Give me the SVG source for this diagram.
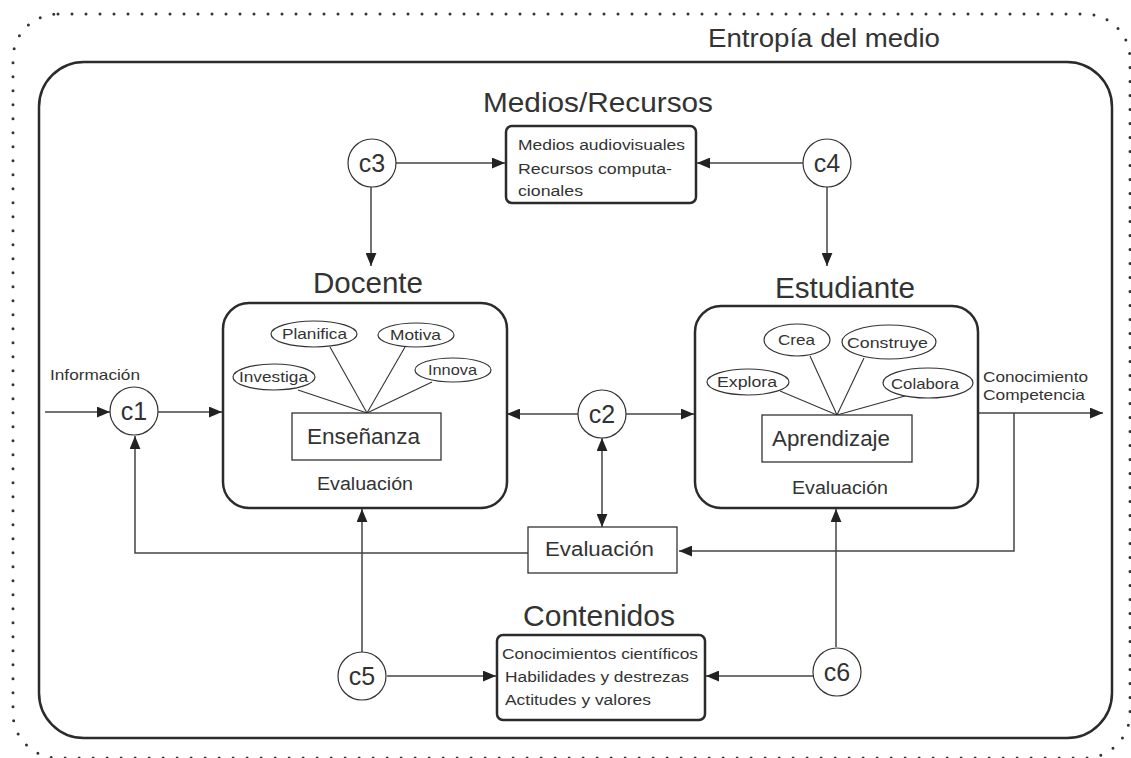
<svg xmlns="http://www.w3.org/2000/svg" width="1131" height="758" viewBox="0 0 1131 758">
<style>
text{font-family:"Liberation Sans",Arial,sans-serif;fill:#333}
.frame{fill:none;stroke:#2b2b2b;stroke-width:2.5}
.box{fill:#fff;stroke:#333;stroke-width:1.3}
.circ{fill:#fff;stroke:#333;stroke-width:1.2}
.ell{fill:#fff;stroke:#333;stroke-width:1.2}
.ln{fill:none;stroke:#444;stroke-width:1.5}
.spk{fill:none;stroke:#333;stroke-width:1.1}
.cl{font-size:25px;text-anchor:middle}
.el{font-size:15px}
.sm{font-size:15.5px}
</style>
<defs>
<marker id="ah" viewBox="0 0 12 10" refX="12" refY="5" markerWidth="13" markerHeight="11" markerUnits="userSpaceOnUse" orient="auto-start-reverse">
<path d="M0,0 L12,5 L0,10 Z" fill="#222"/>
</marker>
</defs>
<rect x="13" y="14" width="1117" height="744" rx="45" fill="none" stroke="#333" stroke-width="3" stroke-linecap="round" stroke-dasharray="0 14"/>
<text x="708" y="47" font-size="26" textLength="232" lengthAdjust="spacingAndGlyphs">Entropía del medio</text>
<rect x="39" y="62" width="1073" height="676" rx="45" class="frame"/>

<g id="connectors">
<line x1="396" y1="163" x2="505" y2="163" class="ln" marker-end="url(#ah)"/>
<line x1="803" y1="163" x2="697" y2="163" class="ln" marker-end="url(#ah)"/>
<line x1="371" y1="187" x2="371" y2="266" class="ln" marker-end="url(#ah)"/>
<line x1="827" y1="187" x2="827" y2="266" class="ln" marker-end="url(#ah)"/>
<line x1="45" y1="412" x2="110" y2="412" class="ln" marker-end="url(#ah)"/>
<line x1="158" y1="412" x2="222" y2="412" class="ln" marker-end="url(#ah)"/>
<line x1="578" y1="414" x2="507" y2="414" class="ln" marker-end="url(#ah)"/>
<line x1="626" y1="414" x2="694" y2="414" class="ln" marker-end="url(#ah)"/>
<line x1="602" y1="438" x2="602" y2="527" class="ln" marker-start="url(#ah)" marker-end="url(#ah)"/>
<line x1="978" y1="413" x2="1103" y2="413" class="ln" marker-end="url(#ah)"/>
<polyline points="1014,413 1014,551 679,551" class="ln" marker-end="url(#ah)"/>
<polyline points="528,553 135,553 135,436" class="ln" marker-end="url(#ah)"/>
<line x1="362" y1="652" x2="362" y2="509" class="ln" marker-end="url(#ah)"/>
<line x1="836" y1="647" x2="836" y2="509" class="ln" marker-end="url(#ah)"/>
<line x1="387" y1="676" x2="496" y2="676" class="ln" marker-end="url(#ah)"/>
<line x1="813" y1="676" x2="706" y2="676" class="ln" marker-end="url(#ah)"/>
</g>

<g id="medios">
<text x="483" y="112" font-size="28" textLength="230" lengthAdjust="spacingAndGlyphs">Medios/Recursos</text>
<rect x="506" y="126" width="190" height="77" rx="6" class="frame" fill="#fff"/>
<text x="518" y="150" class="sm" textLength="167" lengthAdjust="spacingAndGlyphs">Medios audiovisuales</text>
<text x="518" y="174" class="sm" textLength="154" lengthAdjust="spacingAndGlyphs">Recursos computa-</text>
<text x="518" y="196" class="sm" textLength="65" lengthAdjust="spacingAndGlyphs">cionales</text>
</g>

<g id="c3"><circle cx="372" cy="163" r="24" class="circ"/><text x="372" y="172" class="cl">c3</text></g>
<g id="c4"><circle cx="827" cy="163" r="24" class="circ"/><text x="827" y="172" class="cl">c4</text></g>

<g id="docente">
<text x="313" y="293" font-size="29" textLength="110" lengthAdjust="spacingAndGlyphs">Docente</text>
<rect x="223" y="303" width="284" height="205" rx="26" class="frame" fill="#fff"/>
<line x1="330" y1="347" x2="367" y2="413" class="spk"/>
<line x1="405" y1="347" x2="367" y2="413" class="spk"/>
<line x1="298" y1="390" x2="367" y2="413" class="spk"/>
<line x1="432" y1="382" x2="367" y2="413" class="spk"/>
<ellipse cx="314" cy="334" rx="43" ry="13" class="ell"/>
<text x="282" y="339" class="el" textLength="65" lengthAdjust="spacingAndGlyphs">Planifica</text>
<ellipse cx="416" cy="335" rx="38" ry="12" class="ell"/>
<text x="390" y="340" class="el" textLength="51" lengthAdjust="spacingAndGlyphs">Motiva</text>
<ellipse cx="274" cy="377" rx="41" ry="13" class="ell"/>
<text x="239" y="382" class="el" textLength="69" lengthAdjust="spacingAndGlyphs">Investiga</text>
<ellipse cx="453" cy="370" rx="38" ry="12" class="ell"/>
<text x="428" y="375" class="el" textLength="49" lengthAdjust="spacingAndGlyphs">Innova</text>
<rect x="292" y="413" width="149" height="47" class="box"/>
<text x="307" y="444" font-size="22" textLength="113" lengthAdjust="spacingAndGlyphs">Enseñanza</text>
<text x="317" y="490" font-size="18" textLength="96" lengthAdjust="spacingAndGlyphs">Evaluación</text>
</g>

<g id="estudiante">
<text x="775" y="298" font-size="29" textLength="140" lengthAdjust="spacingAndGlyphs">Estudiante</text>
<rect x="695" y="306" width="283" height="202" rx="26" class="frame" fill="#fff"/>
<line x1="810" y1="356" x2="837" y2="415" class="spk"/>
<line x1="864" y1="358" x2="837" y2="415" class="spk"/>
<line x1="780" y1="391" x2="837" y2="415" class="spk"/>
<line x1="905" y1="396" x2="837" y2="415" class="spk"/>
<ellipse cx="797" cy="340" rx="33" ry="16" class="ell"/>
<text x="778" y="345" class="el" textLength="37" lengthAdjust="spacingAndGlyphs">Crea</text>
<ellipse cx="889" cy="342" rx="47" ry="17" class="ell"/>
<text x="847" y="348" class="el" textLength="81" lengthAdjust="spacingAndGlyphs">Construye</text>
<ellipse cx="748" cy="382" rx="41" ry="13" class="ell"/>
<text x="717" y="387" class="el" textLength="60" lengthAdjust="spacingAndGlyphs">Explora</text>
<ellipse cx="928" cy="383" rx="45" ry="15" class="ell"/>
<text x="891" y="389" class="el" textLength="68" lengthAdjust="spacingAndGlyphs">Colabora</text>
<rect x="762" y="415" width="150" height="47" class="box"/>
<text x="772" y="446" font-size="22" textLength="118" lengthAdjust="spacingAndGlyphs">Aprendizaje</text>
<text x="792" y="494" font-size="18" textLength="96" lengthAdjust="spacingAndGlyphs">Evaluación</text>
</g>

<g id="c1"><circle cx="134" cy="411" r="24" class="circ"/><text x="134" y="420" class="cl">c1</text></g>
<text x="50" y="380" font-size="14.5" fill="#555" textLength="90" lengthAdjust="spacingAndGlyphs">Información</text>
<g id="c2"><circle cx="602" cy="414" r="24" class="circ"/><text x="602" y="423" class="cl">c2</text></g>
<g id="salida"><text x="983" y="382" font-size="14.5" textLength="105" lengthAdjust="spacingAndGlyphs">Conocimiento</text><text x="983" y="400" font-size="14.5" textLength="102" lengthAdjust="spacingAndGlyphs">Competencia</text></g>

<g id="evaluacion">
<rect x="528" y="527" width="149" height="46" class="box"/>
<text x="545" y="556" font-size="20" textLength="109" lengthAdjust="spacingAndGlyphs">Evaluación</text>
</g>

<g id="contenidos">
<text x="523" y="626" font-size="29" textLength="152" lengthAdjust="spacingAndGlyphs">Contenidos</text>
<rect x="497" y="635" width="208" height="85" rx="6" class="frame" fill="#fff"/>
<text x="502" y="659" class="sm" textLength="196" lengthAdjust="spacingAndGlyphs">Conocimientos científicos</text>
<text x="505" y="682" class="sm" textLength="184" lengthAdjust="spacingAndGlyphs">Habilidades y destrezas</text>
<text x="505" y="705" class="sm" textLength="146" lengthAdjust="spacingAndGlyphs">Actitudes y valores</text>
</g>

<g id="c5"><circle cx="362" cy="676" r="24" class="circ"/><text x="362" y="685" class="cl">c5</text></g>
<g id="c6"><circle cx="837" cy="672" r="24" class="circ"/><text x="837" y="681" class="cl">c6</text></g>
</svg>
